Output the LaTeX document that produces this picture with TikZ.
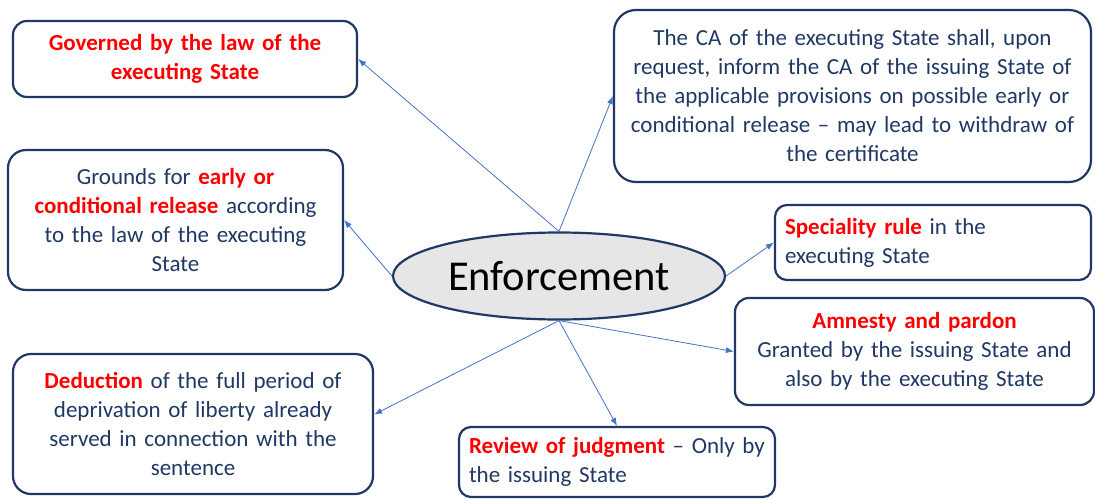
\documentclass[tikz,border=0pt]{standalone}
\usepackage{fontspec}
\setmainfont{Carlito}
\usepackage{tikz}
\usetikzlibrary{arrows.meta}
\usetikzlibrary{positioning}
\usetikzlibrary{shapes.geometric}

\definecolor{boxNavy}{HTML}{203864}
\definecolor{linkBlue}{HTML}{4472C4}
\definecolor{hotRed}{HTML}{FF0000}
\definecolor{hubGray}{HTML}{E6E6E6}

\newcommand{\hot}[1]{\textbf{\textcolor{hotRed}{#1}}}

\begin{document}
\begin{tikzpicture}[
  x=1pt, y=-1pt,
  % every node/.style={font=\large},
  hubNode/.style={ellipse, draw=boxNavy, line width=2.2pt, fill=hubGray,
    minimum width=332pt, minimum height=87pt, inner sep=0pt,
    font=\fontsize{42.5}{50}\selectfont},
  linkArrow/.style={draw=linkBlue, line width=0.8pt, -{Latex[length=8pt,width=6pt]}},
]

\tikzset{
  factBox/.style 2 args={
    draw=boxNavy, line width=2.2pt, rounded corners=14pt,
    rectangle, text=boxNavy,
    minimum width=#1, minimum height=#2,
    text width=#1-20pt, inner sep=0pt, align=center,
    font=\fontsize{23}{29}\selectfont
  },
  leftBox/.style={align=left}
}

\useasboundingbox (0,0) rectangle (1095,498);

% --- hub ---
\node [hubNode] (enfHub) at (559,276) {Enforcement};

% --- boxes round the hub ---
\node [factBox={344pt}{76pt}] (lawBox) at (185,59)
  {\hot{Governed by the law of the}\\\hot{executing State}};

\node [factBox={335pt}{140pt}, rounded corners=18pt] (groundsBox) at (175.5,220)
  {Grounds for \hot{early or}\\\hot{conditional release} according\\to the law of the executing\\State};

\node [factBox={477pt}{172pt}, rounded corners=22pt] (caBox) at (852.5,96)
  {The CA of the executing State shall, upon\\request, inform the CA of the issuing State of\\the applicable provisions on possible early or\\conditional release -- may lead to withdraw of\\the certificate};

\node [factBox={316pt}{75pt}, leftBox, rounded corners=12pt] (specBox) at (933,242.5)
  {\hot{Speciality rule} in the\\executing State};

\node [factBox={359pt}{107pt}] (amnBox) at (914.5,351.5)
  {\hot{Amnesty and pardon}\\Granted by the issuing State and\\also by the executing State};

\node [factBox={360pt}{140pt}, rounded corners=18pt] (dedBox) at (193,424)
  {\hot{Deduction} of the full period of\\deprivation of liberty already\\served in connection with the\\sentence};

\node [factBox={316pt}{70pt}, leftBox, rounded corners=12pt] (revBox) at (617,462)
  {\hot{Review of judgment} -- Only by\\the issuing State};

% --- links ---
\draw[linkArrow] (enfHub.north) -- (lawBox.east);
\draw[linkArrow] (enfHub.north) -- (caBox.west);
\draw[linkArrow] (enfHub.west) -- (groundsBox.east);
\draw[linkArrow] (enfHub.east) -- (specBox.west);
\draw[linkArrow] (enfHub.south) -- (amnBox.west);
\draw[linkArrow] (enfHub.south) -- (revBox.north);
\draw[linkArrow] (enfHub.south) -- (dedBox.3);

\end{tikzpicture}
\end{document}
